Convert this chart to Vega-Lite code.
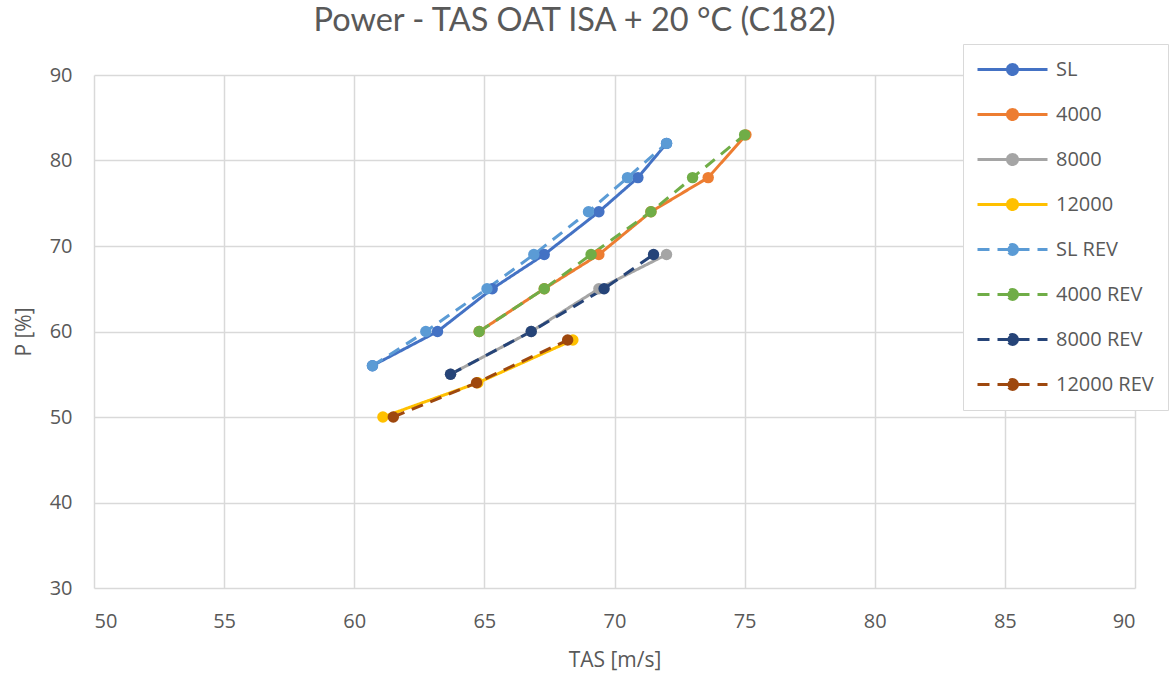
{
  "$schema": "https://vega.github.io/schema/vega-lite/v6.json",
  "autosize": {"type": "none"},
  "width": 1041,
  "height": 513,
  "padding": {"left": 94, "top": 75, "right": 34, "bottom": 86},
  "background": "white",
  "title": {
    "text": "Power - TAS OAT ISA + 20 °C (C182)",
    "font": "Lato",
    "fontSize": 32.5,
    "fontWeight": "normal",
    "color": "#595959",
    "anchor": "middle",
    "dx": -40,
    "offset": 6
  },
  "config": {
    "view": {"stroke": null},
    "axis": {
      "labelFont": "Open Sans",
      "labelFontSize": 20,
      "labelColor": "#595959",
      "titleFont": "Open Sans",
      "titleFontSize": 21,
      "titleFontWeight": "normal",
      "titleColor": "#595959",
      "gridColor": "#d9d9d9",
      "gridWidth": 1.5,
      "domain": false,
      "ticks": false
    }
  },
  "data": {
    "values": [
      {"series": "SL", "tas": 60.7, "p": 56},
      {"series": "SL", "tas": 63.2, "p": 60},
      {"series": "SL", "tas": 65.3, "p": 65},
      {"series": "SL", "tas": 67.3, "p": 69},
      {"series": "SL", "tas": 69.4, "p": 74},
      {"series": "SL", "tas": 70.9, "p": 78},
      {"series": "SL", "tas": 72.0, "p": 82},
      {"series": "4000", "tas": 64.8, "p": 60},
      {"series": "4000", "tas": 67.3, "p": 65},
      {"series": "4000", "tas": 69.4, "p": 69},
      {"series": "4000", "tas": 71.4, "p": 74},
      {"series": "4000", "tas": 73.6, "p": 78},
      {"series": "4000", "tas": 75.05, "p": 83},
      {"series": "8000", "tas": 63.7, "p": 55},
      {"series": "8000", "tas": 66.8, "p": 60},
      {"series": "8000", "tas": 69.4, "p": 65},
      {"series": "8000", "tas": 72.0, "p": 69},
      {"series": "12000", "tas": 61.1, "p": 50},
      {"series": "12000", "tas": 64.75, "p": 54},
      {"series": "12000", "tas": 68.4, "p": 59},
      {"series": "SL REV", "tas": 60.7, "p": 56},
      {"series": "SL REV", "tas": 62.75, "p": 60},
      {"series": "SL REV", "tas": 65.1, "p": 65},
      {"series": "SL REV", "tas": 66.9, "p": 69},
      {"series": "SL REV", "tas": 69.0, "p": 74},
      {"series": "SL REV", "tas": 70.5, "p": 78},
      {"series": "SL REV", "tas": 72.0, "p": 82},
      {"series": "4000 REV", "tas": 64.8, "p": 60},
      {"series": "4000 REV", "tas": 67.3, "p": 65},
      {"series": "4000 REV", "tas": 69.1, "p": 69},
      {"series": "4000 REV", "tas": 71.4, "p": 74},
      {"series": "4000 REV", "tas": 73.0, "p": 78},
      {"series": "4000 REV", "tas": 75.0, "p": 83},
      {"series": "8000 REV", "tas": 63.7, "p": 55},
      {"series": "8000 REV", "tas": 66.8, "p": 60},
      {"series": "8000 REV", "tas": 69.6, "p": 65},
      {"series": "8000 REV", "tas": 71.5, "p": 69},
      {"series": "12000 REV", "tas": 61.5, "p": 50},
      {"series": "12000 REV", "tas": 64.7, "p": 54},
      {"series": "12000 REV", "tas": 68.2, "p": 59}
    ]
  },
  "encoding": {
    "x": {
      "field": "tas",
      "type": "quantitative",
      "scale": {"domain": [50, 90], "nice": false, "zero": false},
      "axis": {"values": [50, 55, 60, 65, 70, 75, 80, 85, 90], "title": "TAS [m/s]", "labelPadding": 23, "titlePadding": 18}
    },
    "y": {
      "field": "p",
      "type": "quantitative",
      "scale": {"domain": [30, 90], "nice": false, "zero": false},
      "axis": {"values": [30, 40, 50, 60, 70, 80, 90], "title": "P [%]", "labelPadding": 22, "titlePadding": 15}
    },
    "color": {
      "field": "series",
      "type": "nominal",
      "scale": {
        "domain": ["SL", "4000", "8000", "12000", "SL REV", "4000 REV", "8000 REV", "12000 REV"],
        "range": ["#4472C4", "#ED7D31", "#A5A5A5", "#FFC000", "#5B9BD5", "#70AD47", "#264478", "#9E480E"]
      },
      "legend": {
        "title": null,
        "orient": "none",
        "legendX": 869,
        "legendY": -31,
        "padding": 14,
        "rowPadding": 22,
        "strokeColor": "#d9d9d9",
        "fillColor": "white",
        "labelFont": "Open Sans",
        "labelFontSize": 20,
        "labelColor": "#595959",
        "labelOffset": 56,
        "symbolSize": 400,
        "symbolStrokeWidth": 3,
        "symbolType": "M-1.1,0H5.9M2.9,0A0.5,0.5 0 1,1 1.9,0A0.5,0.5 0 1,1 2.9,0Z",
        "encode": {
          "symbols": {"update": {"fill": {"scale": "color", "field": "value"}, "stroke": {"scale": "color", "field": "value"}}}
        }
      }
    },
    "strokeDash": {
      "field": "series",
      "type": "nominal",
      "scale": {
        "domain": ["SL", "4000", "8000", "12000", "SL REV", "4000 REV", "8000 REV", "12000 REV"],
        "range": [[1, 0], [1, 0], [1, 0], [1, 0], [12, 8], [12, 8], [12, 8], [12, 8]]
      },
      "legend": null
    }
  },
  "layer": [
    {"mark": {"type": "line", "strokeWidth": 3}},
    {"mark": {"type": "point", "filled": true, "opacity": 1, "size": 130}, "encoding": {"strokeDash": {"value": [1, 0]}}}
  ]
}
